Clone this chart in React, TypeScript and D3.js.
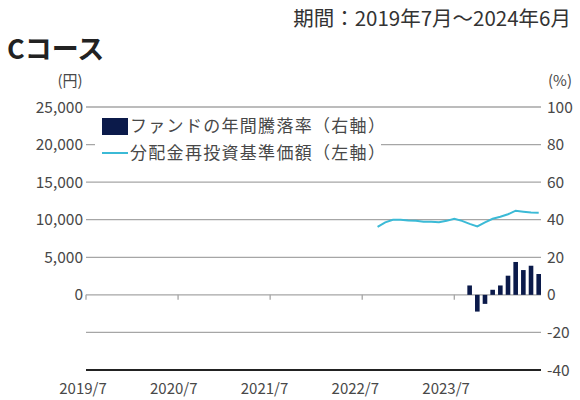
import React from "react";
import * as d3 from "d3";

const START_YEAR = 2019;
const START_MONTH = 7;

const xTickLabels = ["2019/7", "2020/7", "2021/7", "2022/7", "2023/7"];
const leftTicks = [0, 5000, 10000, 15000, 20000, 25000];
const rightTicks = [100, 80, 60, 40, 20, 0, -20, -40];

const navMonths = [
  "2022/9", "2022/10", "2022/11", "2022/12", "2023/1", "2023/2", "2023/3", "2023/4",
  "2023/5", "2023/6", "2023/7", "2023/8", "2023/9", "2023/10", "2023/11", "2023/12",
  "2024/1", "2024/2", "2024/3", "2024/4", "2024/5", "2024/6",
];
const navValues = [
  9050, 9650, 10000, 10000, 9900, 9850, 9730, 9730, 9650, 9850, 10130, 9850,
  9450, 9100, 9650, 10130, 10400, 10730, 11200, 11070, 10960, 10930,
];

const returnMonths = [
  "2023/9", "2023/10", "2023/11", "2023/12", "2024/1", "2024/2", "2024/3", "2024/4", "2024/5", "2024/6",
];
const returnValues = [5.0, -8.9, -4.8, 2.7, 5.0, 10.2, 17.5, 13.2, 15.5, 11.1];

const legendLabels = ["ファンドの年間騰落率（右軸）", "分配金再投資基準価額（左軸）"];

const monthIndex = (s: string) => {
  const [y, m] = s.split("/").map(Number);
  return (y - START_YEAR) * 12 + (m - START_MONTH);
};

const FONT = "'Noto Sans CJK JP', 'Noto Sans', sans-serif";
const TEXT = "#484848";
const BAR = "#0b1a4a";
const LINE = "#3bbad6";
const GRID = "#a6a6a6";

export default function App() {
  const x = d3.scaleLinear().domain([0, 59.3]).range([86, 541]);
  const yR = d3.scaleLinear().domain([-40, 100]).range([370, 107]);
  const yL = d3.scaleLinear().domain([-10000, 25000]).range([370, 107]);
  const xLeft = x(0);
  const xRight = x(59.3);

  const line = d3
    .line<number>()
    .x((_, i) => x(monthIndex(navMonths[i])))
    .y((d) => yL(d))
    .curve(d3.curveLinear);

  const barW = 4.6;

  return (
    <svg
      width={580}
      height={400}
      style={{ position: "absolute", left: 0, top: 0, background: "#fff" }}
      fontFamily={FONT}
    >
      <text x={571} y={26} textAnchor="end" fontSize={20.5} fill="#333">
        期間：2019年7月～2024年6月
      </text>
      <text x={7} y={59} fontSize={27} fontWeight="bold" fill="#222">
        Cコース
      </text>
      <text x={70} y={86} textAnchor="middle" fontSize={15} fill={TEXT}>
        (円)
      </text>
      <text x={560} y={86} textAnchor="middle" fontSize={15} fill={TEXT}>
        (%)
      </text>

      {rightTicks.map((t) => (
        <g key={t}>
          {t !== 0 && (
            <line
              x1={xLeft}
              x2={xRight}
              y1={yR(t)}
              y2={yR(t)}
              stroke={t === -40 ? "#222" : GRID}
              strokeWidth={t === -40 ? 2 : 1.3}
            />
          )}
          <text x={547} y={yR(t) + 5.5} fontSize={15.5} fill={TEXT}>
            {t}
          </text>
        </g>
      ))}
      {leftTicks.map((t) => (
        <text key={t} x={83} y={yL(t) + 5.5} textAnchor="end" fontSize={15.5} fill={TEXT}>
          {d3.format(",")(t)}
        </text>
      ))}

      {/* legend background */}
      <rect x={95} y={113} width={286} height={49} fill="#fff" />
      <rect x={102} y={118} width={26} height={17} fill={BAR} />
      <text x={130} y={132} fontSize={17} letterSpacing={1.3} fill={TEXT}>
        {legendLabels[0]}
      </text>
      <line x1={102} x2={128} y1={153} y2={153} stroke={LINE} strokeWidth={2} />
      <text x={130} y={159} fontSize={17} letterSpacing={1.3} fill={TEXT}>
        {legendLabels[1]}
      </text>

      {/* zero line with ticks */}
      <line x1={xLeft} x2={xRight} y1={yR(0)} y2={yR(0)} stroke={GRID} strokeWidth={1.3} />
      {xTickLabels.map((l, k) => {
        const xi = x(monthIndex(l));
        return (
          <g key={l}>
            <line x1={xi} x2={xi} y1={yR(0)} y2={yR(0) + 5} stroke={GRID} strokeWidth={1.3} />
            <text x={xi - 3 - k * 1.3} y={394} textAnchor="middle" fontSize={15} fill={TEXT}>
              {l}
            </text>
          </g>
        );
      })}

      {returnValues.map((v, i) => {
        const cx = x(monthIndex(returnMonths[i]));
        return (
          <rect
            key={returnMonths[i]}
            x={cx - barW / 2}
            width={barW}
            y={Math.min(yR(v), yR(0))}
            height={Math.abs(yR(v) - yR(0))}
            fill={BAR}
          />
        );
      })}

      <path d={line(navValues) || ""} fill="none" stroke={LINE} strokeWidth={2} />
    </svg>
  );
}
